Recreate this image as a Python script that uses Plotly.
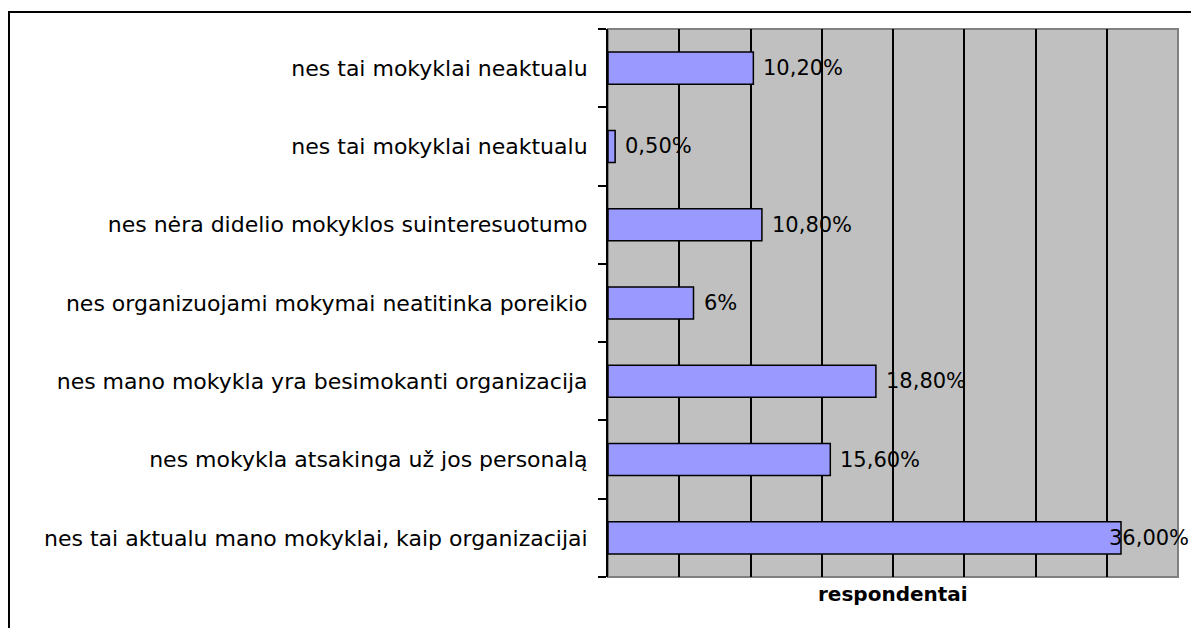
import plotly.graph_objects as go

categories = [
    "nes tai mokyklai neaktualu",
    "nes tai mokyklai neaktualu",
    "nes nėra didelio mokyklos suinteresuotumo",
    "nes organizuojami mokymai neatitinka poreikio",
    "nes mano mokykla yra besimokanti organizacija",
    "nes mokykla atsakinga už jos personalą",
    "nes tai aktualu mano mokyklai, kaip organizacijai",
]
values = [10.2, 0.5, 10.8, 6.0, 18.8, 15.6, 36.0]
value_labels = ["10,20%", "0,50%", "10,80%", "6%", "18,80%", "15,60%", "36,00%"]
axis_title = "respondentai"

positions = list(range(len(categories)))

fig = go.Figure()
fig.add_trace(go.Bar(
    x=values, y=positions, orientation="h",
    width=0.41,
    marker=dict(color="#9999FF", line=dict(color="black", width=1.5)),
    hoverinfo="skip",
))

for p, v, t in zip(positions, values, value_labels):
    if v > 30:
        fig.add_annotation(x=v, y=p, text=t, showarrow=False, xanchor="right",
                           xshift=70, font=dict(family="DejaVu Sans", size=21, color="black"))
    else:
        fig.add_annotation(x=v, y=p, text=t, showarrow=False, xanchor="left",
                           xshift=8, font=dict(family="DejaVu Sans", size=21, color="black"))

fig.add_annotation(x=0.5, y=0, xref="paper", yref="paper", text="<b>" + axis_title + "</b>",
                   showarrow=False, yanchor="top", yshift=-3,
                   font=dict(family="DejaVu Sans", size=20, color="black"))

# plot area border (gray)
fig.add_shape(type="rect", xref="paper", yref="paper", x0=0, x1=1, y0=0, y1=1,
              line=dict(color="#808080", width=2), layer="below")
# outer chart border
fig.add_shape(type="rect", xref="paper", yref="paper", x0=-1.0509, x1=1.0298, y0=-0.2, y1=1.031,
              line=dict(color="black", width=2), layer="above")

n = len(categories)
fig.update_layout(
    width=1191, height=620,
    margin=dict(l=600, r=21, t=21, b=51),
    paper_bgcolor="white", plot_bgcolor="#C0C0C0",
    showlegend=False,
    xaxis=dict(range=[0, 40], tickvals=list(range(5, 40, 5)), showticklabels=False,
               showgrid=True, gridcolor="black", gridwidth=1.5, zeroline=False,
               showline=False, ticks=""),
    yaxis=dict(range=[n - 0.5, -0.5], tickvals=positions, ticktext=categories,
               ticks="", showgrid=False, zeroline=False,
               showline=True, linecolor="black", linewidth=2,
               ticklabelstandoff=14,
               tickfont=dict(family="DejaVu Sans", size=22, color="black"),
               minor=dict(tickmode="array", tickvals=[i - 0.5 for i in range(n + 1)],
                          ticks="outside", ticklen=8, tickwidth=2, tickcolor="black",
                          showgrid=False)),
)

fig.write_html("out.html")
